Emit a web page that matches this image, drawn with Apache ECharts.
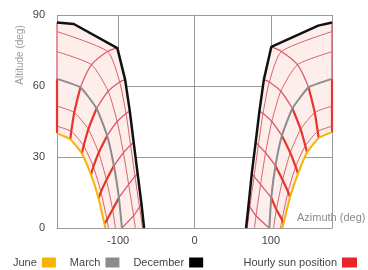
<!DOCTYPE html>
<html><head><meta charset="utf-8">
<script src="https://cdn.jsdelivr.net/npm/echarts@6/dist/echarts.min.js"></script>
<style>html,body{margin:0;padding:0;background:#fff}#c{width:368px;height:270px}</style>
</head><body><div id="c"></div>
<script>
// Tick labels
const xTickLabels = [-100, 0, 100];
const xGridValues = [-180, -100, 0, 100, 180];
const yTickLabels = [0, 30, 60, 90];

// Sun positions, morning side (left): hourly points from 12h, 11h, 10h ... (above horizon), then sunrise azimuth
const juneAzAM = [-180, -162.6, -147.5, -135.5, -125.5, -118];
const juneAltAM = [40, 37.5, 31.5, 22.5, 12.5, 1.8];
const juneRiseAM = -116.5;
const mayAzAM = [-180, -161.3, -145.1, -132.4, -122.5, -114.6];
const mayAltAM = [43, 40.8, 34.7, 25.9, 15.3, 3.5];
const mayRiseAM = -112.6;
const aprAzAM = [-180, -157.4, -139, -125.4, -115.3, -107.2];
const aprAltAM = [51.5, 48.8, 41.7, 31.8, 20.3, 7.8];
const aprRiseAM = -103.5;
const marAzAM = [-180, -149.4, -128.2, -114.4, -105.5, -99, -95];
const marAltAM = [63, 59.4, 50.5, 39, 26.3, 12.8, 0];
const marRiseAM = -95;
const febAzAM = [-180, -134.8, -113, -101.2, -93, -86.2, -79.7];
const febAltAM = [74.5, 69, 57.8, 45, 31.8, 18.4, 5.2];
const febRiseAM = -77.5;
const janAzAM = [-180, -113.8, -97.9, -89.7, -83.6, -77.9, -72];
const janAltAM = [83, 74.6, 61.7, 48.4, 35, 21.8, 8.9];
const janRiseAM = -68;
const decAzAM = [-180, -101, -90.8, -84.7, -79.6, -74.5, -69.5];
const decAltAM = [86.8, 76, 62.7, 49.4, 36.1, 23.1, 10.4];
const decRiseAM = -66;
const decBendAM = [-158, 86.2];

// Afternoon side (right): hourly points from 12h, 13h, 14h ..., then sunset azimuth
const juneAzPM = [180, 162.6, 147.5, 135.5, 125, 116.5];
const juneAltPM = [40.5, 38, 32, 23, 13, 2];
const juneSetPM = 115;
const mayAzPM = [180, 161.3, 145.1, 132.4, 122.5, 114.6];
const mayAltPM = [43, 40.8, 34.7, 25.9, 15.3, 3.5];
const maySetPM = 112.6;
const aprAzPM = [180, 157.4, 139, 125.4, 115.3, 107.2];
const aprAltPM = [51.5, 48.8, 41.7, 31.8, 20.3, 7.8];
const aprSetPM = 103.5;
const marAzPM = [180, 149.4, 128.2, 114.4, 106, 100.5, 98];
const marAltPM = [63, 59.4, 50.5, 39, 26.3, 12.8, 0];
const marSetPM = 98;
const febAzPM = [180, 134.8, 113, 101.2, 93, 86.5, 80.5];
const febAltPM = [74.5, 69, 57.8, 45, 31.8, 18.4, 5.2];
const febSetPM = 78.5;
const janAzPM = [180, 113.8, 97.9, 89.7, 83.6, 78, 72.5];
const janAltPM = [83, 74.6, 61.7, 48.4, 35, 21.8, 8.9];
const janSetPM = 69;
const decAzPM = [180, 100.5, 90.8, 85, 80, 75, 71];
const decAltPM = [86.8, 76.5, 62.7, 49.4, 36.1, 23.1, 10.4];
const decSetPM = 67.5;
const decBendPM = [162, 85.5];

// Legend
const legendLeft = ['June', 'March', 'December'];
const legendRight = ['Hourly sun position'];

function hourPts(az, alt) { return az.map((a, i) => [a, alt[i]]); }
function curve(az, alt, edgeAz, bend) {
  const pts = hourPts(az, alt);
  if (bend) pts.splice(1, 0, bend);
  pts.push([edgeAz, 0]);
  return pts;
}
function side(s) {
  return {
    june: { hours: hourPts(s.juneAz, s.juneAlt), line: curve(s.juneAz, s.juneAlt, s.juneEdge) },
    may:  { hours: hourPts(s.mayAz, s.mayAlt), line: curve(s.mayAz, s.mayAlt, s.mayEdge) },
    apr:  { hours: hourPts(s.aprAz, s.aprAlt), line: curve(s.aprAz, s.aprAlt, s.aprEdge) },
    mar:  { hours: hourPts(s.marAz, s.marAlt), line: curve(s.marAz, s.marAlt, s.marEdge) },
    feb:  { hours: hourPts(s.febAz, s.febAlt), line: curve(s.febAz, s.febAlt, s.febEdge) },
    jan:  { hours: hourPts(s.janAz, s.janAlt), line: curve(s.janAz, s.janAlt, s.janEdge) },
    dec:  { hours: hourPts(s.decAz, s.decAlt), line: curve(s.decAz, s.decAlt, s.decEdge, s.decBend) }
  };
}
const AM = side({juneAz: juneAzAM, juneAlt: juneAltAM, juneEdge: juneRiseAM, mayAz: mayAzAM, mayAlt: mayAltAM, mayEdge: mayRiseAM,
  aprAz: aprAzAM, aprAlt: aprAltAM, aprEdge: aprRiseAM, marAz: marAzAM, marAlt: marAltAM, marEdge: marRiseAM,
  febAz: febAzAM, febAlt: febAltAM, febEdge: febRiseAM, janAz: janAzAM, janAlt: janAltAM, janEdge: janRiseAM,
  decAz: decAzAM, decAlt: decAltAM, decEdge: decRiseAM, decBend: decBendAM});
const PM = side({juneAz: juneAzPM, juneAlt: juneAltPM, juneEdge: juneSetPM, mayAz: mayAzPM, mayAlt: mayAltPM, mayEdge: maySetPM,
  aprAz: aprAzPM, aprAlt: aprAltPM, aprEdge: aprSetPM, marAz: marAzPM, marAlt: marAltPM, marEdge: marSetPM,
  febAz: febAzPM, febAlt: febAltPM, febEdge: febSetPM, janAz: janAzPM, janAlt: janAltPM, janEdge: janSetPM,
  decAz: decAzPM, decAlt: decAltPM, decEdge: decSetPM, decBend: decBendPM});

const order = ['june', 'may', 'apr', 'mar', 'feb', 'jan', 'dec'];
const series = [];

// pink fill between June and December paths
[AM, PM].forEach(S => {
  const poly = S.dec.line.slice().reverse().concat(S.june.line);
  series.push({
    type: 'custom', silent: true, z: 1, data: [[0, 0]],
    renderItem: (params, api) => ({
      type: 'polygon',
      shape: { points: poly.map(p => api.coord(p)) },
      style: { fill: '#fdeeec', stroke: null }
    })
  });
});

const lineBase = { type: 'line', showSymbol: false, silent: true, animation: false };
// intermediate month paths
[AM, PM].forEach(S => {
  ['may', 'apr', 'feb', 'jan'].forEach(k => {
    series.push(Object.assign({}, lineBase, { name: 'month', z: 2, data: S[k].line, smooth: 0.2,
      lineStyle: { color: '#d4636a', width: 1 } }));
  });
});
// hourly lines
[AM, PM].forEach(S => {
  for (let i = 0; i < 7; i++) {
    const pts = [];
    order.forEach(k => { if (i < S[k].hours.length) pts.push(S[k].hours[i]); });
    if (pts.length > 1) {
      const marIdx = order.filter(k => i < S[k].hours.length).indexOf('mar');
      const low = marIdx >= 0 ? pts.slice(0, marIdx + 1) : [];
      const high = marIdx >= 0 ? pts.slice(marIdx) : pts;
      if (low.length > 1) series.push(Object.assign({}, lineBase, { name: 'Hourly sun position', z: 3, data: low, smooth: 0.3,
        lineStyle: { color: '#e8342c', width: 2.2 }, itemStyle: { color: '#e8242c' } }));
      series.push(Object.assign({}, lineBase, { name: 'Hourly sun position', z: 3, data: high, smooth: 0.3,
        lineStyle: { color: '#dc5a6a', width: 1.3 }, itemStyle: { color: '#e8242c' } }));
    }
  }
});
// main date paths
[AM, PM].forEach(S => {
  series.push(Object.assign({}, lineBase, { name: 'March', z: 4, data: S.mar.line, smooth: 0.15,
    lineStyle: { color: '#8c8c8c', width: 2 }, itemStyle: { color: '#8c8c8c' } }));
  series.push(Object.assign({}, lineBase, { name: 'June', z: 5, data: S.june.line, smooth: 0.15,
    lineStyle: { color: '#f6b400', width: 2 }, itemStyle: { color: '#f6b400' } }));
  series.push(Object.assign({}, lineBase, { name: 'December', z: 6, data: S.dec.line,
    lineStyle: { color: '#111111', width: 2.5 }, itemStyle: { color: '#000000' } }));
});

const font = 'Liberation Sans, Arial, sans-serif';
const chart = echarts.init(document.getElementById('c'), null, { renderer: 'canvas' });
chart.setOption({
  animation: false,
  backgroundColor: '#ffffff',
  grid: { left: 57, right: 36, top: 15, bottom: 42 },
  xAxis: {
    type: 'value', min: -180, max: 180,
    axisLine: { show: true, onZero: false, lineStyle: { color: '#9a9a9a' } },
    axisTick: { show: false, customValues: xGridValues },
    axisLabel: { customValues: xTickLabels, fontSize: 11, color: '#444', margin: 7, fontFamily: font },
    splitLine: { show: true, lineStyle: { color: '#9a9a9a', width: 1 } }
  },
  yAxis: {
    type: 'value', min: 0, max: 90, interval: 30,
    axisLine: { show: true, lineStyle: { color: '#9a9a9a' } },
    axisTick: { show: true, length: 9, lineStyle: { color: '#9a9a9a' } },
    axisLabel: { fontSize: 11, color: '#444', margin: 12, fontFamily: font,
      formatter: v => (yTickLabels.indexOf(v) >= 0 ? String(v) : '') },
    splitLine: { show: true, lineStyle: { color: '#9a9a9a', width: 1 } }
  },
  legend: [
    { data: legendLeft, left: 8, top: 252, align: 'right', icon: 'rect', itemWidth: 14, itemHeight: 10, itemGap: 14,
      selectedMode: false, textStyle: { fontSize: 11, color: '#444', fontFamily: font } },
    { data: legendRight, right: 6, top: 252, align: 'right', icon: 'rect', itemWidth: 15, itemHeight: 10,
      selectedMode: false, textStyle: { fontSize: 11, color: '#444', fontFamily: font } }
  ],
  graphic: [
    { type: 'text', x: 20, y: 55, rotation: Math.PI / 2, style: { text: 'Altitude (deg)', fill: '#9a9a9a', fontSize: 10,
      fontFamily: font, align: 'center', verticalAlign: 'middle' } },
    { type: 'text', left: 297, top: 212, style: { text: 'Azimuth (deg)', fill: '#8a8a8a', fontSize: 11, fontFamily: font } }
  ],
  series: series
});
</script></body></html>
